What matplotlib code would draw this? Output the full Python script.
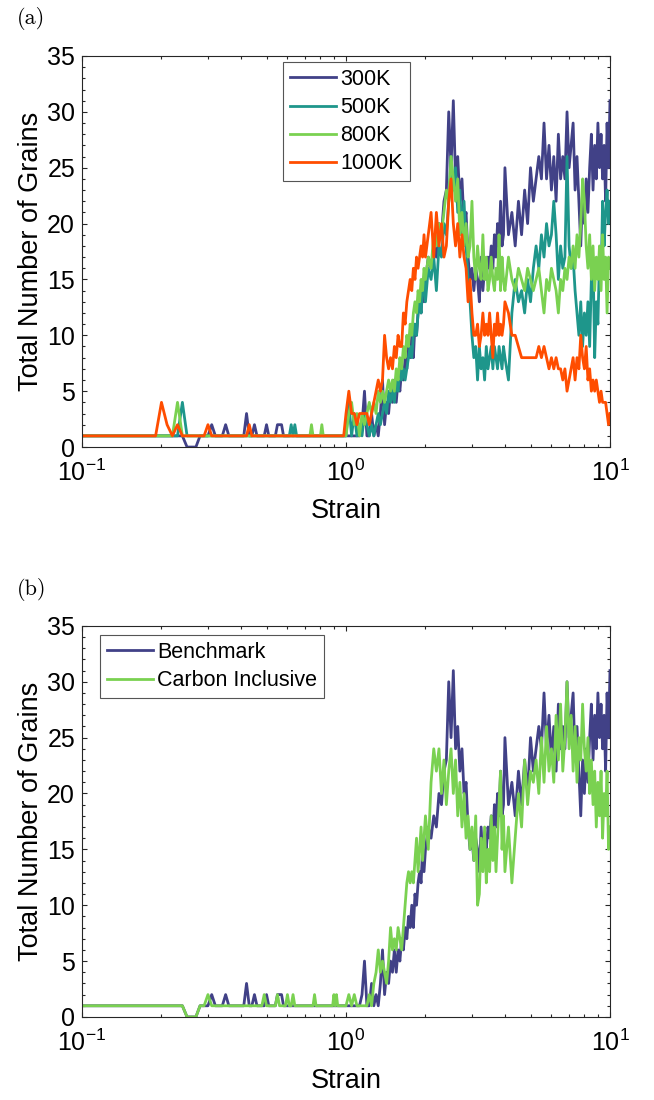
import matplotlib
matplotlib.use("Agg")
import matplotlib.pyplot as plt
from matplotlib.ticker import MultipleLocator, NullFormatter, LogLocator

plt.rcParams['font.family'] = ['Liberation Sans', 'DejaVu Sans']
plt.rcParams['mathtext.fontset'] = 'custom'
plt.rcParams['mathtext.rm'] = 'Liberation Sans'
plt.rcParams['mathtext.it'] = 'Liberation Sans:italic'
plt.rcParams['mathtext.bf'] = 'Liberation Sans:bold'

# ---- data ----
# common strain samples for the noisy part (1 .. 10)
strain_grid = [
    1.000, 1.025, 1.050, 1.075, 1.100, 1.125, 1.150, 1.175, 1.200, 1.225,
    1.250, 1.275, 1.300, 1.325, 1.350, 1.375, 1.400, 1.425, 1.450, 1.475,
    1.500, 1.525, 1.550, 1.575, 1.600, 1.625, 1.650, 1.675, 1.700, 1.725,
    1.750, 1.775, 1.800, 1.825, 1.850, 1.875, 1.900, 1.925, 1.950, 1.975,
    2.00, 2.05, 2.10, 2.15, 2.20, 2.25, 2.30, 2.35, 2.40, 2.45,
    2.50, 2.55, 2.60, 2.65, 2.70, 2.75, 2.80, 2.85, 2.90, 2.95,
    3.00, 3.05, 3.10, 3.15, 3.20, 3.25, 3.30, 3.35, 3.40, 3.45,
    3.50, 3.55, 3.60, 3.65, 3.70, 3.75, 3.80, 3.85, 3.90, 3.95,
    4.000, 4.125, 4.250, 4.375, 4.500, 4.625, 4.750, 4.875,
    5.000, 5.125, 5.250, 5.375, 5.500, 5.625, 5.750, 5.875,
    6.000, 6.125, 6.250, 6.375, 6.500, 6.625, 6.750, 6.875,
    7.000, 7.125, 7.250, 7.375, 7.500, 7.625, 7.750, 7.875,
    8.000, 8.125, 8.250, 8.375, 8.500, 8.625, 8.750, 8.875,
    9.000, 9.125, 9.250, 9.375, 9.500, 9.625, 9.750, 9.875,
    10.000]

# low-strain part (0.1 .. 1), per series
low_x_300K = [0.1, 0.24, 0.25, 0.27, 0.28, 0.30, 0.31, 0.32, 0.34, 0.35, 0.36, 0.41, 0.42,
              0.43, 0.44, 0.45, 0.46, 0.49, 0.50, 0.51, 0.54, 0.55, 0.57, 0.58, 0.99]
low_y_300K = [1, 1, 0, 0, 1, 1, 2, 1, 1, 2, 1, 1, 3, 1, 1, 2, 1, 1, 2, 1, 1, 2, 2, 1, 1]
low_x_500K = [0.1, 0.23, 0.24, 0.25, 0.61, 0.62, 0.63, 0.64, 0.65, 0.99]
low_y_500K = [1, 1, 4, 1, 1, 2, 1, 2, 1, 1]
low_x_800K = [0.1, 0.22, 0.23, 0.24, 0.73, 0.74, 0.75, 0.80, 0.81, 0.82, 0.99]
low_y_800K = [1, 1, 4, 1, 1, 2, 1, 1, 2, 1, 1]
low_x_1000K = [0.1, 0.19, 0.20, 0.21, 0.22, 0.23, 0.24, 0.29, 0.30, 0.31, 0.42, 0.43, 0.44, 0.98]
low_y_1000K = [1, 1, 4, 2, 1, 2, 1, 1, 2, 1, 1, 2, 1, 1]
low_x_carbon = [0.1, 0.24, 0.25, 0.27, 0.28, 0.29, 0.30, 0.31, 0.48, 0.49, 0.50, 0.54, 0.55,
                0.56, 0.59, 0.60, 0.61, 0.62, 0.63, 0.64, 0.75, 0.76, 0.77, 0.89, 0.90,
                0.91, 0.92, 0.93, 0.99]
low_y_carbon = [1, 1, 0, 0, 1, 1, 2, 1, 1, 2, 1, 1, 2, 1, 1, 2, 1, 1, 2, 1, 1, 2, 1, 1, 2,
                1, 2, 1, 1]

# grain counts on strain_grid
n_300K = [
    1, 1, 1, 1, 1, 1, 2, 5, 1, 1,
    3, 1, 2, 1, 3, 6, 2, 4, 3, 5,
    4, 6, 4, 6, 5, 7, 6, 8, 7, 9,
    8, 10, 8, 11, 10, 12, 13, 12, 15, 13,
    15, 17, 16, 18, 17, 20, 19, 22, 23, 30,
    25, 31, 24, 26, 22, 24, 20, 21, 17, 15,
    16, 14, 16, 15, 13, 17, 14, 16, 15, 17,
    16, 18, 16, 19, 17, 20, 18, 22, 18, 19,
    25, 19, 21, 18, 22, 19, 23, 20,
    25, 22, 24, 26, 24, 29, 24, 27,
    23, 26, 22, 28, 24, 26, 24, 30,
    25, 27, 29, 23, 26, 22, 18, 23,
    20, 24, 21, 25, 28, 23, 27, 24,
    29, 25, 28, 24, 27, 22, 29, 25,
    31]
n_500K = [
    1, 4, 1, 3, 1, 2, 1, 3, 2, 1,
    2, 1, 2, 3, 2, 3, 4, 3, 5, 4,
    5, 4, 6, 5, 7, 6, 7, 6, 7, 8,
    9, 8, 10, 11, 10, 12, 13, 12, 14, 15,
    13, 16, 15, 17, 14, 18, 17, 20, 19, 22,
    26, 23, 25, 21, 23, 19, 22, 18, 15, 13,
    10, 8, 9, 6, 9, 7, 8, 6, 9, 7,
    8, 9, 7, 9, 8, 7, 9, 8, 7, 9,
    8, 6, 12, 15, 13, 14, 12, 15,
    13, 16, 18, 16, 19, 17, 20, 18,
    19, 22, 19, 15, 18, 16, 17, 26,
    18, 16, 17, 14, 12, 10, 13, 9,
    12, 10, 13, 9, 15, 17, 8, 13,
    11, 17, 15, 22, 18, 21, 23, 20,
    22]
n_800K = [
    1, 3, 4, 2, 3, 1, 3, 2, 3, 4,
    3, 4, 3, 5, 4, 5, 4, 5, 6, 5,
    6, 5, 7, 6, 8, 7, 9, 8, 10, 9,
    11, 10, 12, 13, 12, 14, 13, 15, 14, 16,
    15, 17, 16, 19, 18, 20, 19, 21, 23, 22,
    26, 24, 22, 24, 19, 21, 18, 20, 17, 18,
    22, 17, 15, 18, 16, 15, 19, 15, 17, 14,
    15, 17, 15, 14, 16, 15, 19, 14, 17, 15,
    14, 17, 15, 14, 16, 15, 14, 16,
    15, 14, 15, 16, 14, 12, 15, 14,
    16, 15, 14, 12, 15, 14, 16, 15,
    17, 16, 18, 16, 19, 17, 20, 24,
    22, 18, 16, 19, 15, 18, 14, 17,
    15, 18, 14, 19, 15, 17, 12, 17,
    16]
n_1000K = [
    3, 5, 3, 3, 2, 3, 3, 3, 3, 2,
    3, 4, 5, 6, 5, 6, 10, 8, 7, 8,
    7, 9, 8, 10, 9, 9, 12, 11, 13, 14,
    15, 14, 16, 15, 17, 16, 17, 18, 17, 19,
    17, 19, 21, 17, 21, 18, 20, 17, 18, 22,
    24, 20, 18, 20, 17, 19, 17, 16, 13, 15,
    12, 10, 10, 11, 9, 10, 12, 10, 11, 10,
    12, 10, 8, 11, 10, 12, 10, 11, 10, 11,
    13, 12, 10, 10, 9, 8, 8, 8,
    8, 8, 8, 9, 8, 9, 8, 7,
    8, 7, 8, 7, 7, 6, 7, 5,
    6, 7, 8, 6, 8, 7, 10, 8,
    7, 9, 6, 7, 5, 6, 5, 6,
    5, 4, 5, 4, 4, 4, 3, 2,
    3]
n_carbon = [
    1, 2, 1, 2, 1, 1, 1, 1, 1, 2,
    1, 3, 4, 6, 4, 5, 4, 3, 5, 8,
    6, 7, 6, 8, 7, 6, 8, 10, 12, 13,
    12, 13, 12, 14, 16, 13, 15, 17, 14, 16,
    18, 15, 21, 24, 22, 24, 20, 23, 19, 22,
    24, 20, 23, 18, 21, 17, 20, 16, 18, 15,
    17, 14, 18, 10, 11, 16, 13, 17, 12, 15,
    13, 18, 14, 17, 13, 16, 19, 22, 15, 18,
    13, 17, 12, 16, 20, 17, 23, 19,
    22, 21, 23, 20, 25, 21, 26, 22,
    24, 21, 27, 23, 28, 22, 25, 30,
    24, 27, 22, 26, 21, 25, 23, 28,
    24, 22, 25, 20, 23, 19, 22, 17,
    21, 18, 22, 16, 20, 18, 22, 15,
    17]

series_a = [("300K", low_x_300K, low_y_300K, n_300K, "#414187"),
            ("500K", low_x_500K, low_y_500K, n_500K, "#1E968B"),
            ("800K", low_x_800K, low_y_800K, n_800K, "#7AD151"),
            ("1000K", low_x_1000K, low_y_1000K, n_1000K, "#FF4D00")]
series_b = [("Benchmark", low_x_300K, low_y_300K, n_300K, "#414187"),
            ("Carbon Inclusive", low_x_carbon, low_y_carbon, n_carbon, "#7AD151")]

fig = plt.figure(figsize=(6.54, 11), dpi=100)


def style_axes(ax):
    ax.set_xscale('log')
    ax.set_xlim(0.1, 10)
    ax.set_ylim(0, 35)
    ax.yaxis.set_major_locator(MultipleLocator(5))
    ax.yaxis.set_minor_locator(MultipleLocator(1))
    ax.xaxis.set_major_locator(LogLocator(base=10))
    ax.xaxis.set_minor_locator(LogLocator(base=10, subs=range(2, 10)))
    ax.xaxis.set_minor_formatter(NullFormatter())
    ax.tick_params(which='both', direction='in', top=True, right=True,
                   color='#262626', width=0.8)
    ax.tick_params(which='major', length=3.6)
    ax.tick_params(which='minor', length=2.2)
    ax.tick_params(axis='y', labelsize=18, pad=5)
    ax.tick_params(axis='x', labelsize=18, pad=9)
    for s in ax.spines.values():
        s.set_color('#262626')
        s.set_linewidth(0.8)
    ax.set_xlabel('Strain', fontsize=19.5)
    ax.set_ylabel('Total Number of Grains', fontsize=19.5, labelpad=2)
    ax.xaxis.set_label_coords(0.5, -0.13)


def draw(ax, series):
    for name, lx, ly, ny, col in series:
        ax.plot(lx + strain_grid, ly + ny, color=col, lw=2.0, label=name)


def add_legend(ax, anchor):
    leg = ax.legend(loc='upper left', bbox_to_anchor=anchor, borderaxespad=0,
                    fontsize=15.5, handlelength=2.14, handletextpad=0.19,
                    labelspacing=0.33, borderpad=0.33, fancybox=False,
                    framealpha=1, edgecolor='#555555')
    leg.get_frame().set_linewidth(0.8)


ax1 = fig.add_axes([0.1254, 0.5936, 0.8073, 0.3555])
draw(ax1, series_a)
style_axes(ax1)
add_legend(ax1, (0.381, 0.985))

ax2 = fig.add_axes([0.1254, 0.0755, 0.8073, 0.3555])
draw(ax2, series_b)
style_axes(ax2)
add_legend(ax2, (0.034, 0.977))

fig.text(17 / 654, 1 - 7 / 1100, '(a)', family='cmr10', fontsize=16, va='top', ha='left')
fig.text(17 / 654, 1 - 578 / 1100, '(b)', family='cmr10', fontsize=16, va='top', ha='left')

fig.savefig('out.png', dpi=100)
